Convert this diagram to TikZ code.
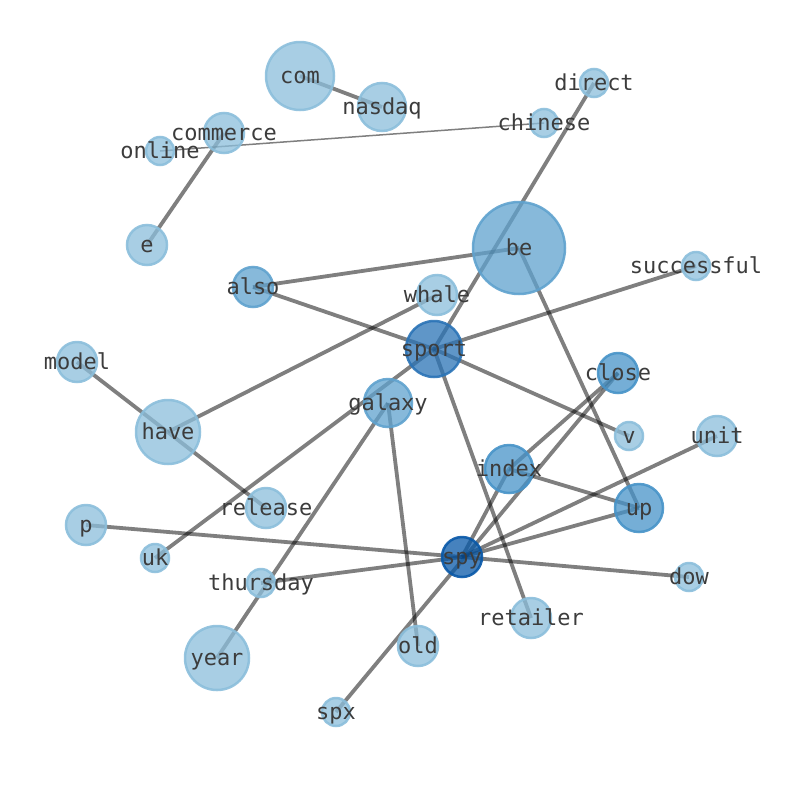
\documentclass[tikz,border=0pt]{standalone}
\usepackage{fontspec}
\setmonofont{DejaVu Sans Mono}
\usetikzlibrary{backgrounds}
\definecolor{blueA}{RGB}{139,190,219}
\definecolor{blueB}{RGB}{95,162,206}
\definecolor{blueC}{RGB}{71,147,200}
\definecolor{blueD}{RGB}{42,115,182}
\definecolor{blueE}{RGB}{8,88,168}
\definecolor{wordgray}{RGB}{60,60,60}

\begin{document}
\begin{tikzpicture}[x=1pt, y=-1pt,
  w/.style={circle, inner sep=0pt, line width=2.5pt, fill=#1, draw=#1,
    fill opacity=0.75, draw opacity=0.9},
  txt/.style={text=wordgray, font=\fontsize{22}{24}\selectfont\ttfamily,
    inner sep=0pt, text height=18pt, text depth=4pt},
  link/.style={line width=3.8pt, draw=black, draw opacity=0.5},
  thinlink/.style={line width=1.5pt, draw=black, draw opacity=0.5}]
  \useasboundingbox (0,0) rectangle (794,790);
  % word nodes
  \node[w=blueA, minimum size=68pt, label={[txt]center:com}] (com) at (300,76) {};
  \node[w=blueA, minimum size=48pt, label={[txt]center:nasdaq}] (nasdaq) at (382,107) {};
  \node[w=blueA, minimum size=28pt, label={[txt]center:direct}] (direct) at (594,83) {};
  \node[w=blueA, minimum size=28pt, label={[txt]center:chinese}] (chinese) at (544,123) {};
  \node[w=blueA, minimum size=40pt, label={[txt]center:commerce}] (commerce) at (224,133) {};
  \node[w=blueA, minimum size=28pt, label={[txt]center:online}] (online) at (160,151) {};
  \node[w=blueA, minimum size=40pt, label={[txt]center:e}] (e) at (147,245) {};
  \node[w=blueB, minimum size=92pt, label={[txt]center:be}] (be) at (519,248) {};
  \node[w=blueA, minimum size=28pt, label={[txt]center:successful}] (successful) at (696,266) {};
  \node[w=blueB, minimum size=40pt, label={[txt]center:also}] (also) at (253,287) {};
  \node[w=blueA, minimum size=40pt, label={[txt]center:whale}] (whale) at (437,295) {};
  \node[w=blueD, minimum size=56pt, label={[txt]center:sport}] (sport) at (434,349) {};
  \node[w=blueA, minimum size=40pt, label={[txt]center:model}] (model) at (77,362) {};
  \node[w=blueC, minimum size=40pt, label={[txt]center:close}] (close) at (618,373) {};
  \node[w=blueB, minimum size=48pt, label={[txt]center:galaxy}] (galaxy) at (388,403) {};
  \node[w=blueA, minimum size=64pt, label={[txt]center:have}] (have) at (168,432) {};
  \node[w=blueA, minimum size=28pt, label={[txt]center:v}] (v) at (629,436) {};
  \node[w=blueA, minimum size=40pt, label={[txt]center:unit}] (unit) at (717,436) {};
  \node[w=blueC, minimum size=48pt, label={[txt]center:index}] (index) at (509,469) {};
  \node[w=blueC, minimum size=48pt, label={[txt]center:up}] (up) at (639,508) {};
  \node[w=blueA, minimum size=40pt, label={[txt]center:release}] (release) at (266,508) {};
  \node[w=blueA, minimum size=40pt, label={[txt]center:p}] (p) at (86,525) {};
  \node[w=blueA, minimum size=28pt, label={[txt]center:uk}] (uk) at (155,558) {};
  \node[w=blueE, minimum size=40pt, label={[txt]center:spy}] (spy) at (462,557) {};
  \node[w=blueA, minimum size=28pt, label={[txt]center:thursday}] (thursday) at (261,583) {};
  \node[w=blueA, minimum size=28pt, label={[txt]center:dow}] (dow) at (689,577) {};
  \node[w=blueA, minimum size=40pt, label={[txt]center:retailer}] (retailer) at (531,618) {};
  \node[w=blueA, minimum size=64pt, label={[txt]center:year}] (year) at (217,658) {};
  \node[w=blueA, minimum size=40pt, label={[txt]center:old}] (old) at (418,646) {};
  \node[w=blueA, minimum size=28pt, label={[txt]center:spx}] (spx) at (336,712) {};
  % links under the words
  \begin{scope}[on background layer]
    \draw[link] (com.center) -- (nasdaq.center);
    \draw[thinlink] (online.center) -- (chinese.center);
    \draw[link] (commerce.center) -- (e.center);
    \draw[link] (direct.center) -- (sport.center);
    \draw[link] (also.center) -- (be.center);
    \draw[link] (also.center) -- (sport.center);
    \draw[link] (be.center) -- (up.center);
    \draw[link] (whale.center) -- (have.center);
    \draw[link] (sport.center) -- (successful.center);
    \draw[link] (sport.center) -- (v.center);
    \draw[link] (sport.center) -- (retailer.center);
    \draw[link] (uk.center) -- (sport.center);
    \draw[link] (model.center) -- (release.center);
    \draw[link] (year.center) -- (galaxy.center);
    \draw[link] (galaxy.center) -- (old.center);
    \draw[link] (index.center) -- (close.center);
    \draw[link] (index.center) -- (up.center);
    \draw[link] (spx.center) -- (close.center);
    \draw[link] (spy.center) -- (index.center);
    \draw[link] (spy.center) -- (unit.center);
    \draw[link] (spy.center) -- (up.center);
    \draw[link] (spy.center) -- (dow.center);
    \draw[link] (p.center) -- (spy.center);
    \draw[link] (thursday.center) -- (spy.center);
  \end{scope}
\end{tikzpicture}
\end{document}
